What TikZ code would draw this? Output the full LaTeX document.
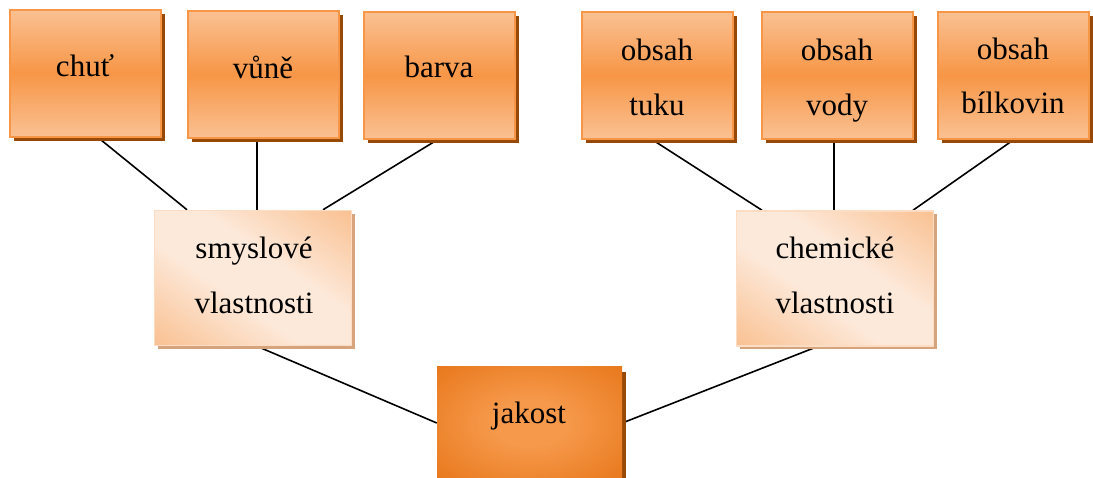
\documentclass[tikz,border=0pt]{standalone}
\usepackage{fontspec}
\setmainfont{Liberation Serif}
\usetikzlibrary{shadows,backgrounds}

\definecolor{tdark}{HTML}{F79646}
\definecolor{tlight}{HTML}{FAC193}
\definecolor{tshadow}{HTML}{984807}
\definecolor{mdark}{HTML}{F9BF8E}
\definecolor{mlight}{HTML}{FDE9DA}
\definecolor{mborder}{HTML}{FCDCC2}
\definecolor{mshadow}{HTML}{D6A47C}
\definecolor{jin}{HTML}{F6994B}
\definecolor{jout}{HTML}{E26A08}

% light diagonal band for the two group boxes
\pgfdeclareverticalshading{midshade}{100bp}%
  {color(0bp)=(mdark); color(14bp)=(mdark); color(42bp)=(mlight);
   color(58bp)=(mlight); color(86bp)=(mdark); color(100bp)=(mdark)}
% glowing centre of the root box
\pgfdeclareradialshading{jakostshade}{\pgfpoint{0bp}{0bp}}%
  {color(0bp)=(jin); color(10bp)=(jin); color(46bp)=(jout); color(80bp)=(jout)}

\begin{document}
\begin{tikzpicture}[x=1pt,y=-1pt,
  topbox/.style={rectangle, draw=tdark, line width=2pt, inner sep=0pt,
    top color=tlight, bottom color=tlight, middle color=tdark,
    minimum width=151pt, minimum height=127pt,
    drop shadow={shadow xshift=4pt, shadow yshift=-4pt, fill=tshadow, opacity=1, draw=none}},
  midbox/.style={rectangle, draw=mborder, line width=1.5pt, inner sep=0pt,
    shading=midshade, shading angle=-34.6,
    minimum width=197pt, minimum height=135pt,
    drop shadow={shadow xshift=3pt, shadow yshift=-3pt, fill=mshadow, opacity=1, draw=none}},
  rootbox/.style={rectangle, draw=none, inner sep=0pt, shading=jakostshade,
    minimum width=185pt, minimum height=114pt,
    drop shadow={shadow xshift=4pt, shadow yshift=-6pt, fill=tshadow, opacity=1, draw=none}},
  lbl/.style={inner sep=0pt, anchor=base, font=\fontsize{31}{37}\selectfont},
  link/.style={draw=black, line width=1.6pt}]

\useasboundingbox (0,0) rectangle (1093,477);
\clip (0,0) rectangle (1093,477);

% sensory properties
\node[topbox] (chut)  at (85,73)      {};
\node[topbox] (vune)  at (263.5,74.5) {};
\node[topbox] (barva) at (439.5,75.5) {};
% chemical properties
\node[topbox] (tuk)   at (657.5,75)   {};
\node[topbox] (voda)  at (837,75)     {};
\node[topbox] (bilk)  at (1013.5,75)  {};
% groups
\node[midbox] (smysl) at (253,278)    {};
\node[midbox] (chem)  at (835,278.5)  {};
% root
\node[rootbox] (jakost) at (529.5,423) {};

% labels
\node[lbl] (chut-t)   at (85,76)    {chuť};
\node[lbl] (vune-t)   at (263,78)   {vůně};
\node[lbl] (barva-t)  at (439,77)   {barva};
\node[lbl] (tuk-t1)   at (657,60)   {obsah};
\node[lbl] (tuk-t2)   at (657,115)  {tuku};
\node[lbl] (voda-t1)  at (837,60)   {obsah};
\node[lbl] (voda-t2)  at (837,115)  {vody};
\node[lbl] (bilk-t1)  at (1013,59)  {obsah};
\node[lbl] (bilk-t2)  at (1013,113) {bílkovin};
\node[lbl] (smysl-t1) at (254,258)  {smyslové};
\node[lbl] (smysl-t2) at (254,313)  {vlastnosti};
\node[lbl] (chem-t1)  at (835,258)  {chemické};
\node[lbl] (chem-t2)  at (835,313)  {vlastnosti};
\node[lbl] (jakost-t) at (529,423)  {jakost};

% connectors
\begin{scope}[on background layer]
  \draw[link] ([xshift=13pt]chut.south)    -- ([xshift=-66pt]smysl.north);
  \draw[link] ([xshift=-6.5pt]vune.south)  -- ([xshift=4pt]smysl.north);
  \draw[link] ([xshift=-2.5pt]barva.south) -- ([xshift=70pt]smysl.north);
  \draw[link] ([xshift=4pt]smysl.south)    -- (jakost.west);
  \draw[link] (jakost.east) -- ([xshift=-18pt]chem.south);
  \draw[link] ([xshift=-5.5pt]tuk.south)   -- ([xshift=-73pt]chem.north);
  \draw[link] ([xshift=-3pt]voda.south)    -- ([xshift=-1pt]chem.north);
  \draw[link] ([xshift=0.5pt]bilk.south)   -- ([xshift=78pt]chem.north);
\end{scope}
\end{tikzpicture}
\end{document}
